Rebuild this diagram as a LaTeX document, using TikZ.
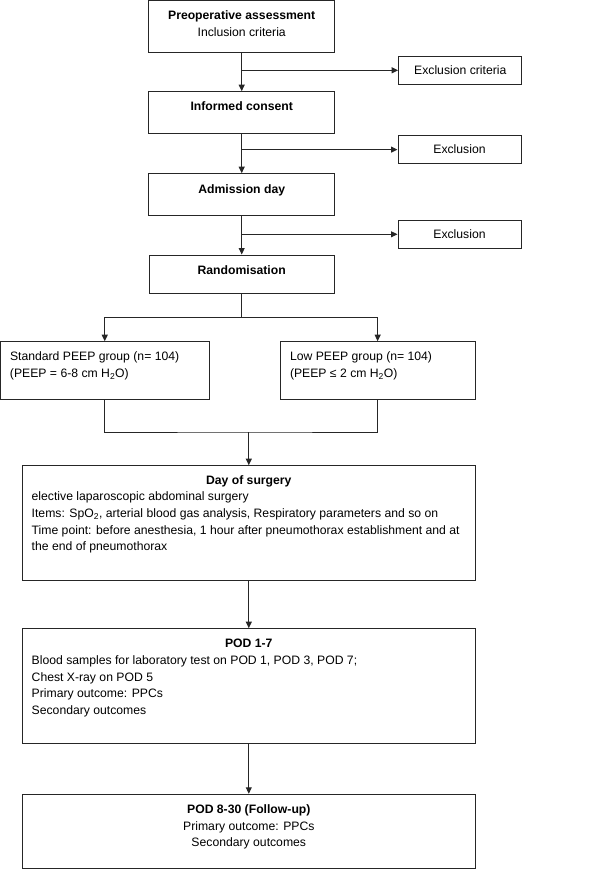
\documentclass[tikz,border=0pt]{standalone}
\usepackage{fontspec}
\setmainfont{Liberation Sans}
\usetikzlibrary{arrows.meta}
\newcommand{\tbox}[3]{\parbox[c][#2][t]{#1}{#3}}
\begin{document}
\begin{tikzpicture}[x=1pt,y=-1pt,
  box/.style={draw=black!85, line width=1pt, inner sep=0pt, font=\fontsize{12.2}{16.7}\selectfont},
  arr/.style={draw=black!85, line width=1pt, -{Triangle[length=6.5pt,width=6pt]}},
  ln/.style={draw=black!85, line width=1pt}]
\useasboundingbox (0,0) rectangle (595,870);
% main column
\node[box] (b1) at (241.7,26.35) {\tbox{185.7pt}{51.3pt}{\centering\rule{0pt}{19pt}\textbf{Preoperative assessment}\\Inclusion criteria\par}};
\node[box] (b2) at (241.7,112.5) {\tbox{185.7pt}{41.6pt}{\centering\rule{0pt}{19pt}\textbf{Informed consent}\par}};
\node[box] (b3) at (241.7,194.7) {\tbox{185.7pt}{42pt}{\centering\rule{0pt}{19.5pt}\textbf{Admission day}\par}};
\node[box] (b4) at (241.7,274.35) {\tbox{185.3pt}{38.7pt}{\centering\rule{0pt}{19pt}\textbf{Randomisation}\par}};
% exclusions
\node[box, minimum width=123.3pt, minimum height=28pt] (e1) at (460.3,70.3) {Exclusion criteria};
\node[box, minimum width=123pt, minimum height=28.3pt] (e2) at (459.5,149.6) {Exclusion};
\node[box, minimum width=123pt, minimum height=28pt] (e3) at (459.5,234.3) {Exclusion};
% groups
\node[box] (L) at (104.75,370.35) {\tbox{208.5pt}{57.3pt}{\raggedright\leftskip=9.5pt\rule{0pt}{19pt}Standard PEEP group (n= 104)\\(PEEP = 6-8 cm H\textsubscript{2}O)\par}};
\node[box] (R) at (377.65,370.35) {\tbox{195.3pt}{57.3pt}{\raggedright\leftskip=10pt\rule{0pt}{19pt}Low PEEP group (n= 104)\\(PEEP ≤ 2 cm H\textsubscript{2}O)\par}};
% surgery and follow-up
\node[box] (S) at (248.8,523.2) {\tbox{453pt}{115pt}{{\centering\bfseries\rule{0pt}{18.3pt}Day of surgery\par}{\raggedright\leftskip=9.4pt elective laparoscopic abdominal surgery\\Items: SpO\textsubscript{2}, arterial blood gas analysis, Respiratory parameters and so on\\Time point: before anesthesia, 1 hour after pneumothorax establishment and at\\the end of pneumothorax\par}}};
\node[box] (P1) at (248.8,686) {\tbox{453pt}{114.6pt}{{\centering\bfseries\rule{0pt}{19pt}POD 1-7\par}{\raggedright\leftskip=9.4pt Blood samples for laboratory test on POD 1, POD 3, POD 7;\\Chest X-ray on POD 5\\Primary outcome: PPCs\\Secondary outcomes\par}}};
\node[box] (P2) at (248.8,831.5) {\tbox{453pt}{74.5pt}{\centering\rule{0pt}{19.2pt}\textbf{POD 8-30 (Follow-up)}\\Primary outcome: PPCs\\Secondary outcomes\par}};
% connectors
\draw[arr] (b1.south) -- (b2.north);
\draw[arr] (b1.south |- e1.west) -- (e1.west);
\draw[arr] (b2.south) -- (b3.north);
\draw[arr] (b2.south |- e2.west) -- (e2.west);
\draw[arr] (b3.south) -- (b4.north);
\draw[arr] (b3.south |- e3.west) -- (e3.west);
\coordinate (split) at (241.7,317.3);
\draw[ln] (b4.south) -- (split);
\draw[arr] (split) -| (L.north);
\draw[arr] (split) -| (R.north);
\coordinate (merge) at (248.8,432);
\draw[ln] (L.south) |- (merge) -| (R.south);
\draw[arr] (merge) -- (S.north);
\draw[arr] (S.south) -- (P1.north);
\draw[arr] (P1.south) -- (P2.north);
\end{tikzpicture}
\end{document}
